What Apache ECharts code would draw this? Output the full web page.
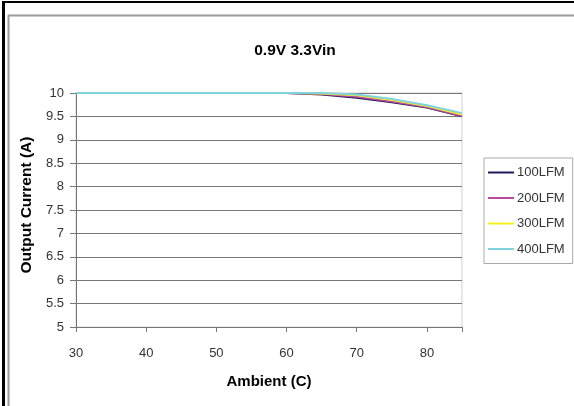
<!DOCTYPE html>
<html>
<head>
<meta charset="utf-8">
<script src="https://cdn.jsdelivr.net/npm/echarts@6/dist/echarts.min.js"></script>
<style>
  html, body { margin: 0; padding: 0; background: #fff; }
  #chart { width: 574px; height: 406px; }
</style>
</head>
<body>
<div id="chart"></div>
<script>
// ambient temperature (C)
const ambient = [30, 35, 40, 45, 50, 55, 60, 65, 70, 75, 80, 85];
// output current (A) per airflow
const lfm100 = [10, 10, 10, 10, 10, 10, 10, 9.97, 9.9, 9.8, 9.69, 9.5];
const lfm200 = [10, 10, 10, 10, 10, 10, 10, 9.98, 9.92, 9.82, 9.7, 9.51];
const lfm300 = [10, 10, 10, 10, 10, 10, 10, 9.99, 9.95, 9.85, 9.72, 9.54];
const lfm400 = [10, 10, 10, 10, 10, 10, 10, 10, 9.97, 9.87, 9.74, 9.57];
const seriesNames = ['100LFM', '200LFM', '300LFM', '400LFM'];
const seriesColors = ['#1f1a5e', '#b8499c', '#f2ef1c', '#7fd3df'];

const font = 'Liberation Sans, Arial, sans-serif';
const myChart = echarts.init(document.getElementById('chart'));

const toPairs = vals => ambient.map((x, i) => [x, vals[i]]);
const allSeries = [lfm100, lfm200, lfm300, lfm400];

const option = {
  animation: false,
  backgroundColor: '#fff',
  title: {
    text: '0.9V 3.3Vin',
    left: 290,
    top: 38,
    textAlign: 'center',
    textStyle: { fontFamily: font, fontSize: 15.5, fontWeight: 'bold', color: '#000' }
  },
  legend: {
    orient: 'vertical',
    left: 484,
    top: 158,
    itemGap: 12.5,
    itemWidth: 26,
    itemHeight: 16,
    padding: [8, 8, 8, 4],
    borderColor: '#aaa',
    borderWidth: 1,
    icon: 'path://M0,7L26,7L26,9L0,9Z',
    textStyle: { fontFamily: font, fontSize: 13, color: '#333', padding: [0, 0, 0, -2] },
    data: seriesNames
  },
  grid: { left: 76, right: 112, top: 93, bottom: 79, show: true, borderColor: '#d0d0d0', borderWidth: 1 },
  xAxis: {
    type: 'value',
    min: 30,
    max: 85,
    interval: 10,
    name: 'Ambient (C)',
    nameLocation: 'middle',
    nameGap: 47,
    nameTextStyle: { fontFamily: font, fontSize: 15, fontWeight: 'bold', color: '#000' },
    axisLine: { lineStyle: { color: '#777' } },
    axisTick: { length: 5, lineStyle: { color: '#777' } },
    axisLabel: {
      fontFamily: font, fontSize: 13, color: '#333', margin: 20,
      formatter: v => (v === 85 ? '' : v)
    },
    splitLine: { show: false }
  },
  yAxis: {
    type: 'value',
    min: 5,
    max: 10,
    interval: 0.5,
    name: 'Output Current (A)',
    nameLocation: 'middle',
    nameGap: 36,
    nameTextStyle: { fontFamily: font, fontSize: 15.5, fontWeight: 'bold', color: '#000', padding: [0, 0, 0, 10] },
    axisLine: { show: true, lineStyle: { color: '#777' } },
    axisTick: { show: true, length: 6, lineStyle: { color: '#777' } },
    axisLabel: { fontFamily: font, fontSize: 13, color: '#333', margin: 12 },
    splitLine: { show: true, lineStyle: { color: '#777', width: 1 } }
  },
  graphic: [
    { type: 'rect', shape: { x: 2, y: 1, width: 600, height: 2 }, style: { fill: '#000' } },
    { type: 'rect', shape: { x: 2, y: 1, width: 3, height: 420 }, style: { fill: '#000' } },
    { type: 'line', shape: { x1: 8, y1: 15.5, x2: 600, y2: 15.5 }, style: { stroke: '#9a9a9a', lineWidth: 2 } },
    { type: 'line', shape: { x1: 8.5, y1: 15, x2: 8.5, y2: 420 }, style: { stroke: '#9a9a9a', lineWidth: 2 } }
  ],
  series: allSeries.map((vals, i) => ({
    name: seriesNames[i],
    type: 'line',
    data: toPairs(vals),
    symbol: 'none',
    lineStyle: { width: 2, color: seriesColors[i] },
    itemStyle: { color: seriesColors[i] }
  }))
};

myChart.setOption(option);
</script>
</body>
</html>
